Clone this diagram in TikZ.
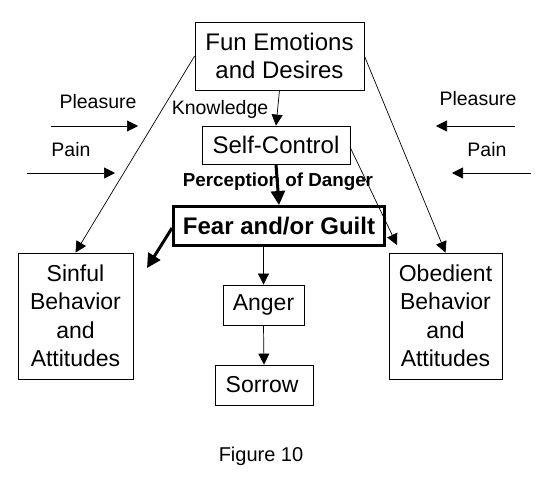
\documentclass[tikz,border=0pt]{standalone}
\usepackage{fontspec}
\setmainfont{Liberation Sans}
\usetikzlibrary{arrows.meta}
\begin{document}
\begin{tikzpicture}[x=1pt,y=-1pt,
  box/.style={draw,line width=0.8pt,inner sep=0pt,align=center,
    font=\fontsize{23}{28.5}\selectfont},
  bigbox/.style={box,font=\fontsize{24}{28}\selectfont},
  lbl/.style={inner sep=0pt,font=\fontsize{19.5}{22}\selectfont},
  arr/.style={line width=0.7pt,-{Triangle[length=11pt,width=11pt]}},
  thickarr/.style={line width=3pt,-{Triangle[length=14pt,width=14pt]}}]
\useasboundingbox[fill=white] (0,0) rectangle (552,484);
% boxes
\node[bigbox,minimum width=169,minimum height=68] (fun) at (279.5,56) {Fun Emotions\\and Desires};
\node[bigbox,minimum width=148,minimum height=38] (sc) at (276,145) {Self-Control};
\node[box,line width=3pt,minimum width=211,minimum height=39,font=\fontsize{24}{26}\selectfont\bfseries] (fear) at (279,226) {Fear and/or Guilt};
\node[box,minimum width=115,minimum height=126] (sin) at (75.5,316) {Sinful\\Behavior\\and\\Attitudes};
\node[box,minimum width=113,minimum height=126] (obe) at (445.5,316) {Obedient\\Behavior\\and\\Attitudes};
\node[box,minimum width=81,minimum height=40] (ang) at (263.5,305) {Anger};
\node[box,minimum width=98,minimum height=40] (sor) at (264,385) {Sorrow\,};
% labels
\node[lbl] (plL) at (98,102) {Pleasure};
\node[lbl] (paL) at (71,150) {Pain};
\node[lbl] (kn) at (220,109) {Knowledge};
\node[lbl] (plR) at (478,99) {Pleasure};
\node[lbl] (paR) at (487,150) {Pain};
\node[lbl,font=\fontsize{18.8}{20}\selectfont\bfseries] (per) at (278,182) {Perception of Danger};
\node[lbl,font=\fontsize{20}{22}\selectfont] (fig) at (261,456) {Figure 10};
% free-end coordinates
\coordinate (a1) at (51,126);  \coordinate (a2) at (138,126);
\coordinate (b1) at (27,173);  \coordinate (b2) at (115,173);
\coordinate (c1) at (515,126); \coordinate (c2) at (436,126);
\coordinate (d1) at (531,173); \coordinate (d2) at (452,173);
\coordinate (sce) at (350,147); \coordinate (sct) at (397,245);
\coordinate (fw) at (172,228); \coordinate (fwt) at (147,268);
% connectors
\draw[arr] (a1) -- (a2);
\draw[arr] (b1) -- (b2);
\draw[arr] (c1) -- (c2);
\draw[arr] (d1) -- (d2);
\draw[arr] (fun.south) -- (sc.north);
\draw[thickarr] (sc.south) -- (fear.north);
\draw[arr] (fun.west) -- (sin.north);
\draw[arr] (fun.east) -- (obe.north);
\draw[arr] (sce) -- (sct);
\draw[thickarr] (fw) -- (fwt);
\draw[arr] (fear.south -| ang.north) -- (ang.north);
\draw[arr] (ang.south) -- (sor.north);
\end{tikzpicture}
\end{document}
